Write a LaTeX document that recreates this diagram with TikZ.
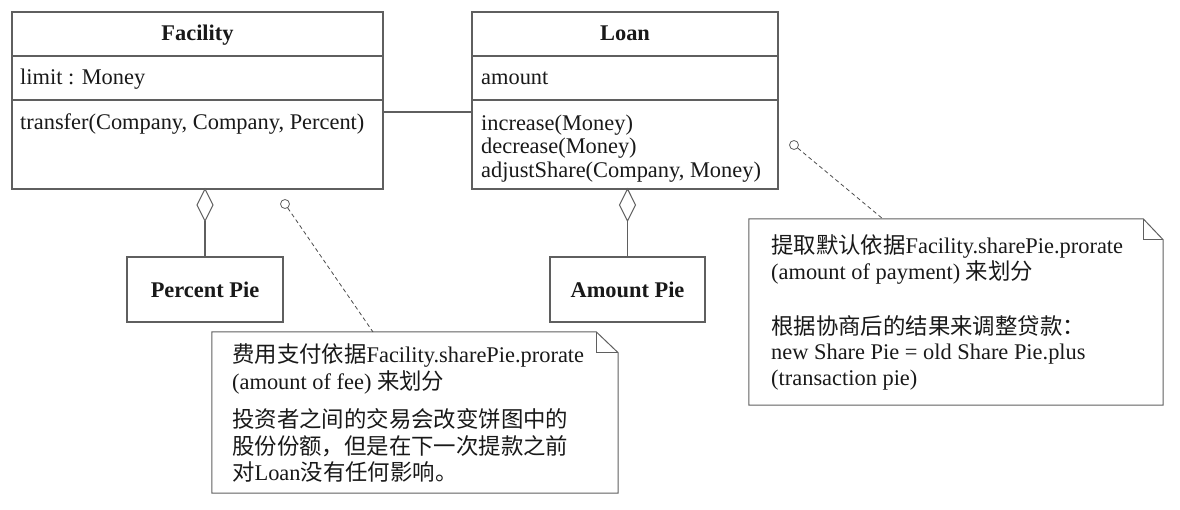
\documentclass[tikz,border=0pt]{standalone}
\usepackage{fontspec}
\setmainfont{Liberation Serif}
\newfontfamily\cjk{Noto Sans CJK SC}
\definecolor{lc}{RGB}{95,95,95}
\definecolor{tc}{RGB}{25,25,25}
\tikzset{
  boxline/.style={draw=lc, line width=1.1pt},
  classbox/.style={boxline, inner sep=0pt, fill=white},
  txt/.style={inner sep=0pt, text=tc, font=\fontsize{22.4}{25}\selectfont, text height=18pt, text depth=3pt},
  ltxt/.style={txt, anchor=west},
  btxt/.style={txt, font=\fontsize{22.4}{25}\selectfont\bfseries},
  notedash/.style={draw=lc!80!black, line width=0.8pt, dash pattern=on 4pt off 3pt},
  anchorcircle/.style={circle, draw=lc, line width=0.8pt, minimum size=9pt, inner sep=0pt},
}
\begin{document}
\begin{tikzpicture}[x=1pt,y=-1pt]
\useasboundingbox (0,0) rectangle (1180,510);
% Facility class
\node[classbox, minimum width=371pt, minimum height=177pt] (fac) at (197.5,100.5) {};
\draw[boxline] (fac.west |- 0,56) -- (fac.east |- 0,56);
\draw[boxline] (fac.west |- 0,100) -- (fac.east |- 0,100);
\node[btxt] (factitle) at (197.5,33) {Facility};
\node[ltxt] (facattr) at (20,77) {limit : Money};
\node[ltxt] (facop) at (20,122) {transfer(Company, Company, Percent)};
% Loan class
\node[classbox, minimum width=306pt, minimum height=177pt] (loan) at (625,100.5) {};
\draw[boxline] (loan.west |- 0,56) -- (loan.east |- 0,56);
\draw[boxline] (loan.west |- 0,100) -- (loan.east |- 0,100);
\node[btxt] (loantitle) at (625,33) {Loan};
\node[ltxt] (loanattr) at (481,77) {amount};
\node[ltxt] (loanop1) at (481,123) {increase(Money)};
\node[ltxt] (loanop2) at (481,146.5) {decrease(Money)};
\node[ltxt] (loanop3) at (481,170) {adjustShare(Company, Money)};
% association
\draw[boxline] (fac.east |- 0,112) -- (loan.west |- 0,112);
% pies
\node[classbox, minimum width=156pt, minimum height=65pt] (pp) at (205,289.5) {};
\node[btxt] (pptext) at (205,290) {Percent Pie};
\node[classbox, minimum width=155pt, minimum height=65pt] (ap) at (627.5,289.5) {};
\node[btxt] (aptext) at (627.5,290) {Amount Pie};
% aggregation diamonds
\coordinate (d1t) at (205,189);
\coordinate (d1b) at (205,221);
\draw[boxline, fill=white] (d1t) -- ++(8,16) -- (d1b) -- ++(-8,-16) -- cycle;
\draw[boxline] (d1b) -- (pp.north);
\coordinate (d2t) at (627.5,189);
\coordinate (d2b) at (627.5,221);
\draw[boxline, fill=white] (d2t) -- ++(8,16) -- (d2b) -- ++(-8,-16) -- cycle;
\draw[boxline] (d2b) -- (ap.north);
% note 1
\node[inner sep=0pt, minimum width=406pt, minimum height=161pt] (n1) at (415,412.5) {};
\draw[boxline, line width=1pt] (n1.north west) -- ([xshift=-22pt]n1.north east) -- ([yshift=-21pt]n1.north east) -- (n1.south east) -- (n1.south west) -- cycle;
\draw[boxline, line width=1pt] ([xshift=-22pt]n1.north east) -- ([xshift=-22pt,yshift=-21pt]n1.north east) -- ([yshift=-21pt]n1.north east);
\node[ltxt] (n1l1) at (232,355) {{\cjk 费用支付依据}Facility.sharePie.prorate};
\node[ltxt] (n1l2) at (232,382) {(amount of fee) {\cjk 来划分}};
\node[ltxt] (n1l3) at (232,420) {\cjk 投资者之间的交易会改变饼图中的};
\node[ltxt] (n1l4) at (232,447) {\cjk 股份份额，但是在下一次提款之前};
\node[ltxt] (n1l5) at (232,473) {{\cjk 对}Loan{\cjk 没有任何影响。}};
\node[anchorcircle] (c1) at (285,204) {};
\coordinate (n1a) at (373,332);
\draw[notedash] (c1) -- (n1a);
% note 2
\node[inner sep=0pt, minimum width=414pt, minimum height=186pt] (n2) at (956,312) {};
\draw[boxline, line width=1pt] (n2.north west) -- ([xshift=-20pt]n2.north east) -- ([yshift=-21pt]n2.north east) -- (n2.south east) -- (n2.south west) -- cycle;
\draw[boxline, line width=1pt] ([xshift=-20pt]n2.north east) -- ([xshift=-20pt,yshift=-21pt]n2.north east) -- ([yshift=-21pt]n2.north east);
\node[ltxt] (n2l1) at (771,246) {{\cjk 提取默认依据}Facility.sharePie.prorate};
\node[ltxt] (n2l2) at (771,272) {(amount of payment) {\cjk 来划分}};
\node[ltxt] (n2l3) at (771,327) {\cjk 根据协商后的结果来调整贷款：};
\node[ltxt] (n2l4) at (771,352) {new Share Pie = old Share Pie.plus};
\node[ltxt] (n2l5) at (771,378) {(transaction pie)};
\node[anchorcircle] (c2) at (794,145) {};
\coordinate (n2a) at (883,219);
\draw[notedash] (c2) -- (n2a);
\end{tikzpicture}
\end{document}
